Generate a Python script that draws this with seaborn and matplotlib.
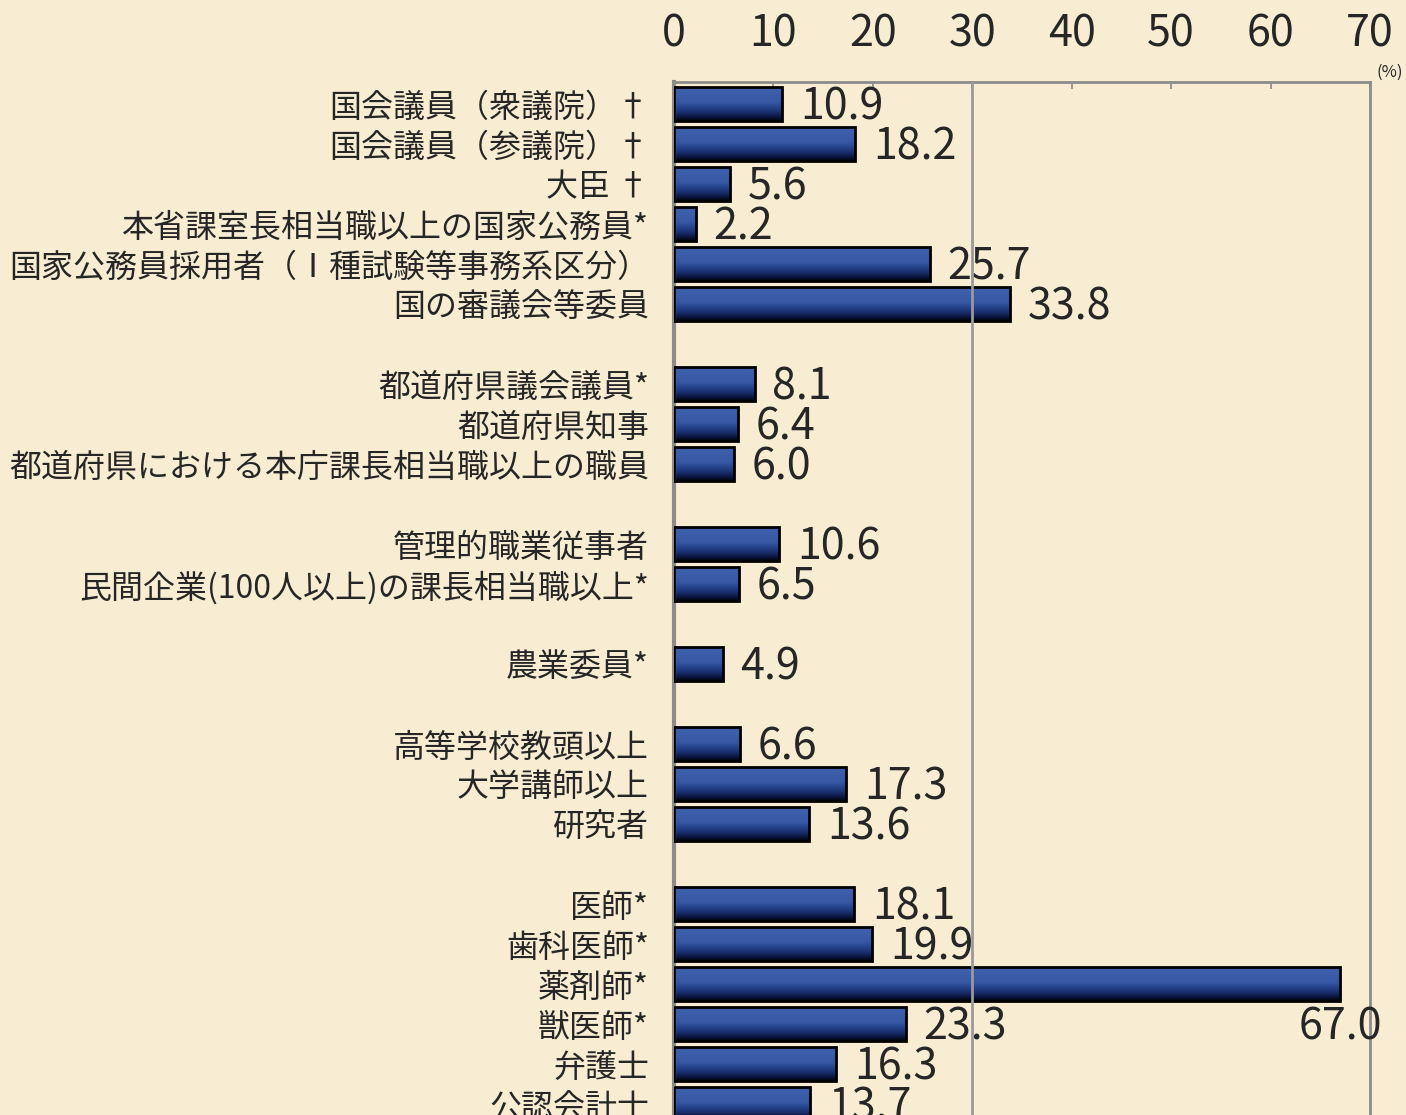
import numpy as np
import seaborn as sns
import matplotlib.pyplot as plt
from matplotlib.colors import LinearSegmentedColormap

# Data
categories = [
    '国会議員（衆議院）†', '国会議員（参議院）†', '大臣 †',
    '本省課室長相当職以上の国家公務員*',
    '国家公務員採用者（Ⅰ種試験等事務系区分）', '国の審議会等委員',
    '都道府県議会議員*', '都道府県知事', '都道府県における本庁課長相当職以上の職員',
    '管理的職業従事者', '民間企業(100人以上)の課長相当職以上*',
    '農業委員*',
    '高等学校教頭以上', '大学講師以上', '研究者',
    '医師*', '歯科医師*', '薬剤師*', '獣医師*', '弁護士', '公認会計士',
]
values = [10.9, 18.2, 5.6, 2.2, 25.7, 33.8,
          8.1, 6.4, 6.0,
          10.6, 6.5,
          4.9,
          6.6, 17.3, 13.6,
          18.1, 19.9, 67.0, 23.3, 16.3, 13.7]
groups = [1, 1, 1, 1, 1, 1,
          2, 2, 2,
          3, 3,
          4,
          5, 5, 5,
          6, 6, 6, 6, 6, 6]
x_ticks = [0, 10, 20, 30, 40, 50, 60, 70]

# row positions: one blank row between groups
positions = []
group_starts = []
row = 0
for i, g in enumerate(groups):
    if i > 0 and g != groups[i - 1]:
        row += 1
        group_starts.append(row)
    positions.append(row)
    row += 1

sns.set_style('white')
plt.rcParams['font.family'] = ['Noto Sans CJK JP', 'DejaVu Sans']

bg = '#f8edd3'
fig = plt.figure(figsize=(14.06, 11.15), dpi=100, facecolor=bg)
ax = fig.add_axes([674 / 1406, 0.92646 - 0.95247, (1370 - 674) / 1406, 0.95247])
ax.set_facecolor('none')

bar_h = 0.83
sns.barplot(x=values, y=positions, orient='h', native_scale=True,
            width=bar_h, color='#2f4f9c', ax=ax, zorder=3)

# gradient fill, light blue on top to black at the bottom
cmap = LinearSegmentedColormap.from_list('bar', [
    (0.0, '#4262ae'), (0.45, '#3557a4'), (0.7, '#1d367a'),
    (0.88, '#0c1740'), (1.0, '#010308')])
grad = np.linspace(0, 1, 64).reshape(-1, 1)
for p in ax.patches:
    x0, y0 = p.get_x(), p.get_y()
    w, h = p.get_width(), p.get_height()
    im = ax.imshow(grad, cmap=cmap, aspect='auto', origin='upper',
                   extent=(x0, x0 + w, y0 + h, y0), zorder=2.5)
    im.set_clip_path(p)
    p.set_facecolor('none')
    p.set_edgecolor('black')
    p.set_linewidth(2)

# value labels (the 67.0 one sits under its bar, near the right edge)
for v, pos in zip(values, positions):
    if v > 60:
        ax.text(v, pos + 1.39, f'{v:.1f}', ha='center', va='baseline', fontsize=31, zorder=5)
    else:
        ax.text(v + 1.8, pos + 0.39, f'{v:.1f}', ha='left', va='baseline', fontsize=31, zorder=5)

# grey reference line at 30 drawn over everything
ax.axvline(30, color='#9a9a9a', lw=2, zorder=6)

ax.set_xlim(0, 70)
ax.set_ylim(26.0, -0.55)
ax.xaxis.tick_top()
ax.set_xticks(x_ticks)
ax.set_xticklabels([str(t) for t in x_ticks], fontsize=31)
ax.tick_params(axis='x', direction='in', length=5, width=1.2, color='#888888', pad=18)

ax.set_yticks(positions)
ax.set_yticklabels(categories, fontsize=23)
ax.tick_params(axis='y', which='major', length=0, pad=18)
ax.set_yticks([-0.55] + [s - 0.575 for s in group_starts], minor=True)
ax.tick_params(axis='y', which='minor', direction='in', length=6, width=1.2, color='#666666')
ax.set_xlabel('')
ax.set_ylabel('')

for side in ['top', 'right']:
    ax.spines[side].set_color('#8c8c8c')
    ax.spines[side].set_linewidth(2)
ax.spines['left'].set_color('#8c8c8c')
ax.spines['left'].set_linewidth(3)
ax.spines['bottom'].set_visible(False)

fig.text(1390 / 1406, 1 - 72 / 1115, '(%)', ha='center', va='center', fontsize=12)

fig.savefig('out.png', dpi=100, facecolor=bg)
